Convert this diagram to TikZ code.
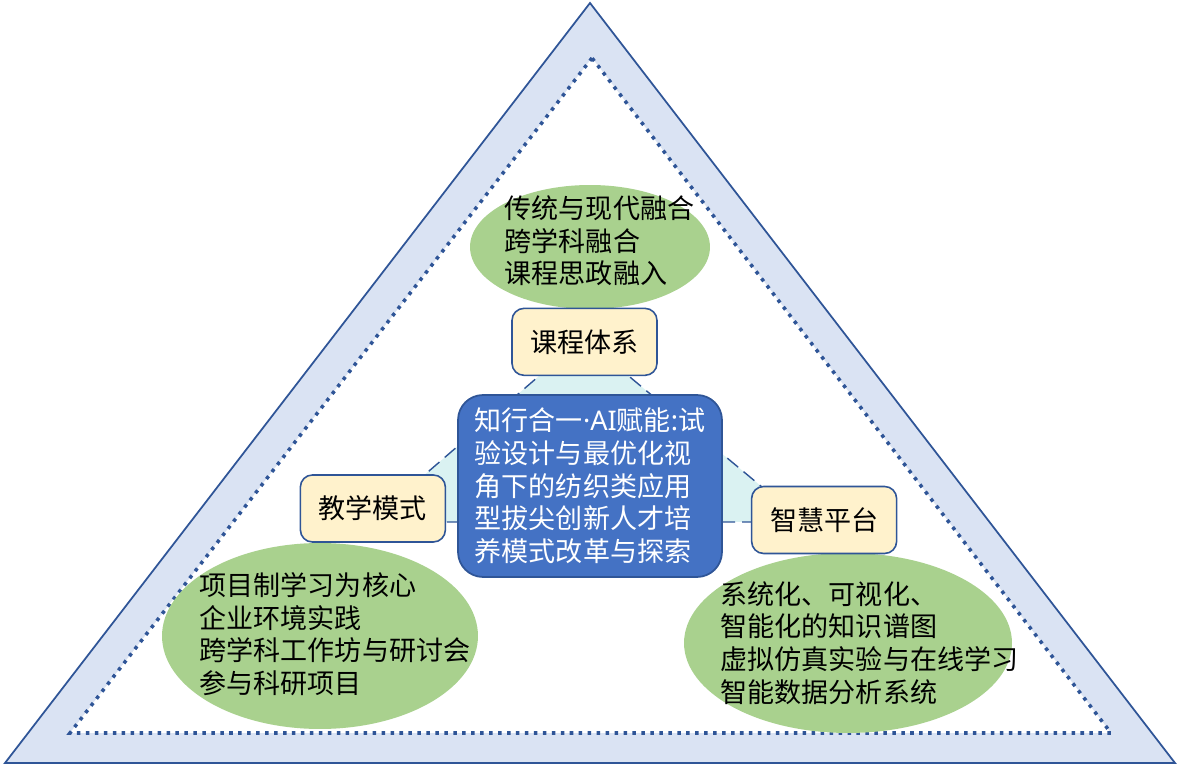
\documentclass[tikz,border=0pt]{standalone}
\usepackage{fontspec}
\setmainfont{Noto Sans CJK SC}
\newfontfamily\latinfont{Noto Sans}
\usepackage{xcolor}
\usepackage{tikz}
\usetikzlibrary{shapes.geometric, positioning}

\definecolor{frameblue}{HTML}{2F5597}
\definecolor{framefill}{HTML}{DAE3F3}
\definecolor{leafgreen}{HTML}{A9D18E}
\definecolor{boxcream}{HTML}{FFF2CC}
\definecolor{hubblue}{HTML}{4472C4}
\definecolor{triaqua}{HTML}{DAF2F2}

\begin{document}
\begin{tikzpicture}[
    x=0.02cm, y=-0.02cm,
    every node/.style={font=\fontsize{15.4}{18.6}\selectfont},
    pillar/.style={rectangle, draw=frameblue, fill=boxcream, line width=0.9pt, rounded corners=0.24cm, minimum width=2.9cm, minimum height=1.34cm},
    hub/.style={rectangle, draw=frameblue, fill=hubblue, text=white, line width=1pt, rounded corners=0.5cm, minimum width=5.28cm, minimum height=3.64cm, align=left, inner sep=0pt},
    bubble/.style={ellipse, fill=leafgreen, inner sep=0pt},
    bubbletext/.style={align=left},
    link/.style={draw=frameblue, dash pattern=on 8pt off 4pt, line width=0.8pt}
]
    \useasboundingbox (0,0) rectangle (1181,766);
    % outer frame and dotted inner triangle
    \draw [draw=frameblue, fill=framefill, line width=1pt] (590,3) -- (5,763) -- (1175,763) -- cycle;
    \draw [draw=frameblue, fill=white, line width=2pt, dash pattern=on 2pt off 3.1pt] (592,58) -- (70,733) -- (1111,733) -- cycle;
    % green ellipses
    \node [bubble, minimum width=4.8cm, minimum height=2.48cm, label={[bubbletext, xshift=0.19cm, yshift=0.12cm]center:{传统与现代融合\\跨学科融合\\课程思政融入}}] (coursebub) at (590,247) {};
    \node [bubble, minimum width=6.32cm, minimum height=3.72cm, label={[bubbletext, xshift=0.3cm, yshift=0.04cm]center:{项目制学习为核心\\企业环境实践\\跨学科工作坊与研讨会\\参与科研项目}}] (teachbub) at (320,636) {};
    \node [bubble, minimum width=6.56cm, minimum height=3.6cm, label={[bubbletext, xshift=0.43cm]center:{系统化、可视化、\\智能化的知识谱图\\虚拟仿真实验与在线学习\\智能数据分析系统}}] (smartbub) at (848,643) {};
    % dashed triangle behind the centre
    \coordinate (tritop) at (583,338);
    \coordinate (trileft) at (370,522);
    \coordinate (triright) at (804,522);
    \draw [link, fill=triaqua] (tritop) -- (trileft) -- (triright) -- cycle;
    \node [hub] (hub) at (590,486) {知行合一{\latinfont ·AI}赋能{\latinfont :}试\\验设计与最优化视\\角下的纺织类应用\\型拔尖创新人才培\\养模式改革与探索};
    \node [pillar, above=0.36cm of hub, xshift=-0.11cm] (course) {课程体系};
    \node [pillar, left=0.22cm of hub, yshift=-0.45cm] (teach) {教学模式};
    \node [pillar, right=0.56cm of hub, yshift=-0.68cm] (smart) {智慧平台};
\end{tikzpicture}
\end{document}
